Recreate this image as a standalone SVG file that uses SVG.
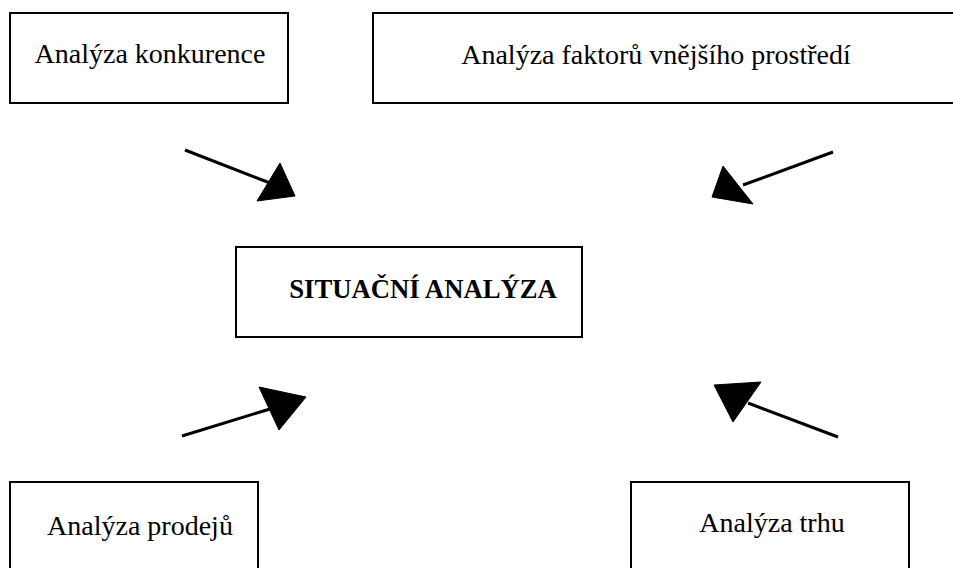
<svg xmlns="http://www.w3.org/2000/svg" width="953" height="568" viewBox="0 0 953 568">
<style>
.box{fill:#fff;stroke:#000;stroke-width:2}
.t{font-family:"Liberation Serif","Times New Roman",serif;font-size:28px;fill:#000;text-anchor:middle}
.b{font-weight:bold;font-size:26.7px}
.ln{stroke:#000;stroke-width:3;fill:none}
.hd{fill:#000;stroke:#000;stroke-width:1;stroke-linejoin:round}
</style>
<rect width="953" height="568" fill="#fff"/>
<g id="n-konkurence"><rect class="box" x="10" y="13" width="278" height="90"/><text class="t" x="150" y="63">Analýza konkurence</text></g>
<g id="n-faktory"><rect class="box" x="373" y="13" width="590" height="90"/><text class="t" x="656" y="64">Analýza faktorů vnějšího prostředí</text></g>
<g id="n-situacni"><rect class="box" x="236" y="247" width="346" height="90"/><text class="t b" x="423" y="298">SITUAČNÍ ANALÝZA</text></g>
<g id="n-prodeje"><rect class="box" x="10" y="482" width="248" height="100"/><text class="t" x="140" y="535">Analýza prodejů</text></g>
<g id="n-trh"><rect class="box" x="631" y="482" width="278" height="100"/><text class="t" x="772" y="532">Analýza trhu</text></g>
<g id="connectors">
<line class="ln" x1="185" y1="150" x2="270" y2="183"/>
<polygon class="hd" points="280,163 295,196 257,201"/>
<line class="ln" x1="833" y1="152" x2="743" y2="185"/>
<polygon class="hd" points="723,166 712,197 753,204"/>
<line class="ln" x1="182" y1="436" x2="270" y2="409"/>
<polygon class="hd" points="259,387 306,397 279,430"/>
<line class="ln" x1="838" y1="437" x2="748" y2="403"/>
<polygon class="hd" points="714,385 761,382 733,422"/>
</g>
</svg>
